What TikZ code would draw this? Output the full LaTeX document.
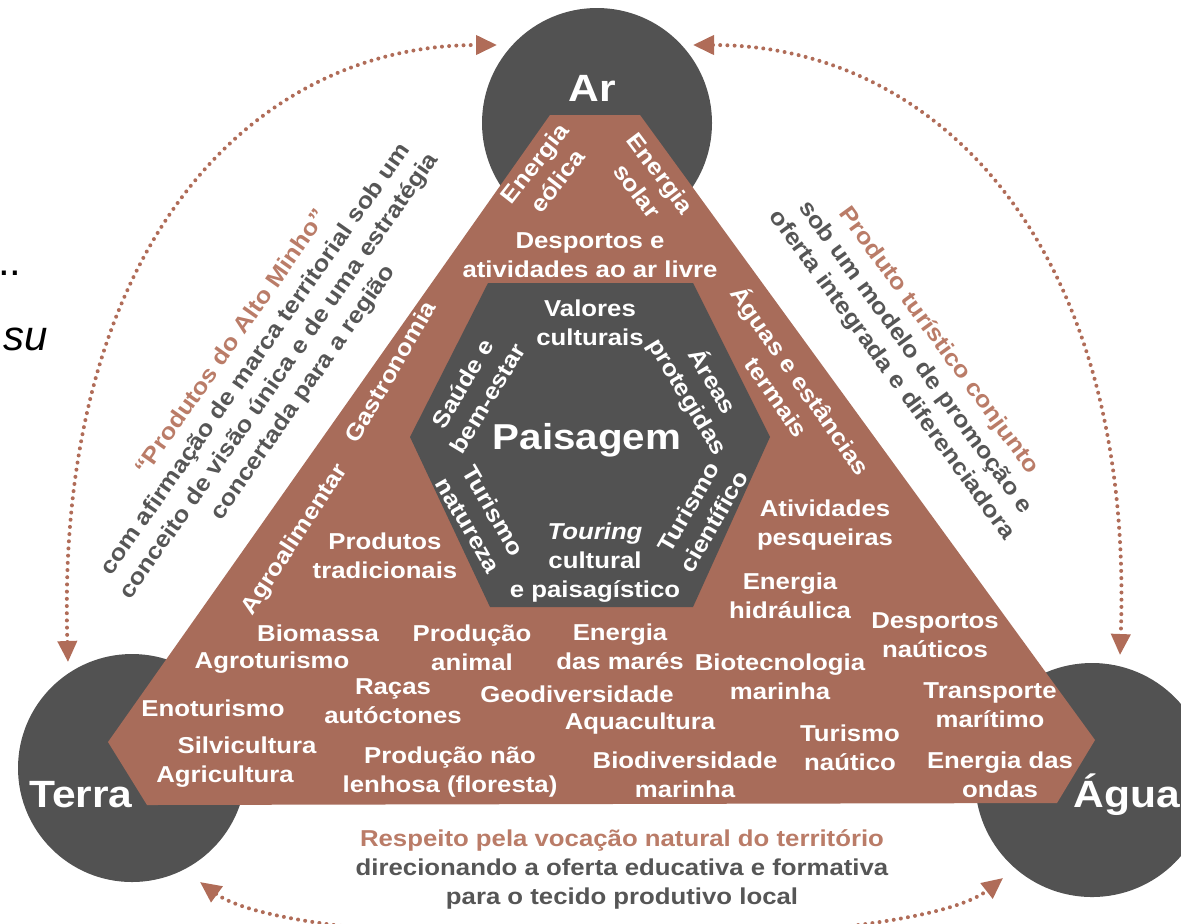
\documentclass[tikz,border=0pt]{standalone}
\usepackage{fontspec}
\setmainfont{Liberation Sans}[FakeStretch=1.12]
\newfontfamily\strayfont{Liberation Sans}
\usetikzlibrary{arrows.meta}
\definecolor{earthBrown}{RGB}{168,108,90}
\definecolor{coreGray}{RGB}{82,82,82}
\definecolor{headBrown}{RGB}{186,124,104}
\definecolor{noteGray}{RGB}{86,86,86}
\definecolor{dotBrown}{RGB}{176,108,88}
\tikzset{
    element/.style={
        circle,
        fill=coreGray,
        inner sep=0pt
    },
    elemlabel/.style={
        font=\fontsize{19}{22}\selectfont\bfseries,
        text=white,
        inner sep=0pt
    },
    item/.style={
        font=\fontsize{11.5}{14.5}\selectfont\bfseries,
        text=white,
        align=center,
        inner sep=0pt
    },
    note/.style={
        font=\fontsize{11.5}{14.5}\selectfont\bfseries,
        text=noteGray,
        align=center,
        inner sep=0pt
    },
    link/.style={
        {Triangle[length=10.5pt,width=9.5pt]}-{Triangle[length=10.5pt,width=9.5pt]},
        dotBrown,
        line width=2pt,
        line cap=round,
        dash pattern=on 0pt off 3.6pt
    }
}

\begin{document}
\begin{tikzpicture}[x=0.5pt, y=-0.5pt]
        \useasboundingbox (0,0) rectangle (1181,923);
        \clip (0,0) rectangle (1181,923);

        % the three elements
        \node[element, minimum size=115pt] (ar) at (597,123) {};
        \node[element, minimum size=114pt] (terra) at (132,768) {};
        \node[element, minimum size=117pt] (agua) at (1092,780) {};

        % triangle and hexagon
        \fill[earthBrown] (550,115) -- (640,115) -- (1095,740) -- (1057,803)
            -- (147,805) -- (108,742) -- cycle;
        \fill[coreGray] (488,283) -- (693,283) -- (770,437) -- (693,607)
            -- (490,607) -- (410,437) -- cycle;

        \node[elemlabel] (arlbl) at (592,88) {Ar};
        \node[elemlabel] (terralbl) at (81,795) {Terra};
        \node[elemlabel] (agualbl) at (1127,795) {Água};

        % dotted links between the elements
        \coordinate (arW) at (497,45);
        \coordinate (arE) at (693,45);
        \coordinate (terraN) at (68,662);
        \coordinate (terraS) at (200,882);
        \coordinate (aguaN) at (1120,655);
        \coordinate (aguaS) at (1003,878);
        \draw[link] (terraN) .. controls (55,250) and (250,45) .. (arW);
        \draw[link] (arE) .. controls (940,45) and (1135,250) .. (aguaN);
        \draw[link] (terraS) .. controls (300,955) and (905,955) .. (aguaS);

        % side notes
        \node[note, rotate=55] (leftnote) at (268,368)
            {{\color{headBrown}“Produtos do Alto Minho”}\\
             com afirmação de marca territorial sob um\\
             conceito de visão única e de uma estratégia\\
             concertada para a região};
        \node[note, rotate=-54] (rightnote) at (915,358)
            {{\color{headBrown}Produto turístico conjunto}\\
             sob um modelo de promoção e\\
             oferta integrada e diferenciadora};
        \node[note] (bottomnote) at (622,869)
            {{\color{headBrown}Respeito pela vocação natural do território}\\
             direcionando a oferta educativa e formativa\\
             para o tecido produtivo local};

        % landscape core
        \node[item] (valores) at (590,323) {Valores\\culturais};
        \node[item, rotate=59] (saude) at (475,391) {Saúde e\\bem-estar};
        \node[item, rotate=-59] (areas) at (700,389) {Áreas\\protegidas};
        \node[item, font=\fontsize{18}{21}\selectfont\bfseries] (paisagem) at (587,440) {Paisagem};
        \node[item, rotate=-60] (tnatureza) at (481,518) {Turismo\\natureza};
        \node[item, rotate=60] (tcientifico) at (701,514) {Turismo\\científico};
        \node[item] (touring) at (595,563) {\textit{Touring}\\cultural\\e paisagístico};

        % activities on the triangle
        \node[item, rotate=52] (eolica) at (546,172) {Energia\\eólica};
        \node[item, rotate=-53] (solar) at (649,182) {Energia\\solar};
        \node[item] (desportos) at (590,255) {Desportos e\\atividades ao ar livre};
        \node[item, rotate=60] (gastro) at (390,372) {Gastronomia};
        \node[item, rotate=57] (agroal) at (295,540) {Agroalimentar};
        \node[item, rotate=-55] (aguas) at (790,388) {Águas e estâncias\\termais};
        \node[item] (tradic) at (385,556) {Produtos\\tradicionais};
        \node[item] (pesca) at (825,525) {Atividades\\pesqueiras};
        \node[item] (hidra) at (790,596) {Energia\\hidráulica};
        \node[item] (nautic) at (935,635) {Desportos\\naúticos};
        \node[item] (biomassa) at (318,633) {Biomassa};
        \node[item] (animal) at (472,648) {Produção\\animal};
        \node[item] (mares) at (620,647) {Energia\\das marés};
        \node[item] (agrotur) at (272,663) {Agroturismo};
        \node[item] (biotec) at (780,677) {Biotecnologia\\marinha};
        \node[item] (racas) at (393,701) {Raças\\autóctones};
        \node[item] (geo) at (577,694) {Geodiversidade};
        \node[item] (enotur) at (213,708) {Enoturismo};
        \node[item] (transp) at (990,705) {Transporte\\marítimo};
        \node[item] (aqua) at (640,724) {Aquacultura};
        \node[item] (silvi) at (247,745) {Silvicultura};
        \node[item] (lenhosa) at (450,772) {Produção não\\lenhosa (floresta)};
        \node[item] (biodiv) at (685,775) {Biodiversidade\\marinha};
        \node[item] (tnautico) at (850,748) {Turismo\\naútico};
        \node[item] (agric) at (225,777) {Agricultura};
        \node[item] (ondas) at (1000,775) {Energia das\\ondas};

        % cut-off text at the left margin
        \node[anchor=base east, inner sep=0pt, font=\strayfont\fontsize{21}{24}\selectfont] (strayA) at (22,275) {...};
        \node[anchor=base east, inner sep=0pt, font=\strayfont\fontsize{21}{24}\selectfont\itshape] (strayB) at (48,350) {su};
    \end{tikzpicture}
\end{document}
